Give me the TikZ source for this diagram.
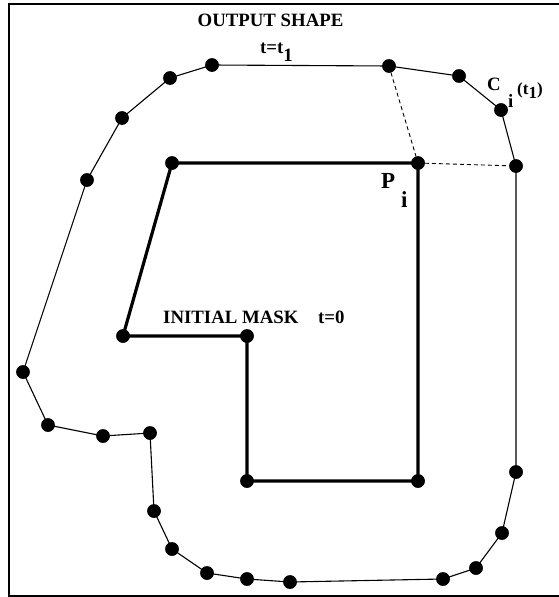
\documentclass[tikz,border=0pt]{standalone}
\usepackage{fontspec}
\setmainfont{Liberation Serif}
\begin{document}
\begin{tikzpicture}[x=1pt,y=-1pt,
  dot/.style={circle,fill=black,inner sep=0pt,minimum size=13.5pt},
  outer/.style={line width=1.1pt},
  inner/.style={line width=3.2pt},
  guide/.style={line width=0.9pt,dash pattern=on 4pt off 3pt},
  lbl/.style={inner sep=0pt,font=\bfseries\fontsize{18.8}{20}\selectfont},
  frame/.style={line width=2pt}]
\useasboundingbox (0,0) rectangle (559,597);
% frame
\coordinate (f1) at (562,4);
\coordinate (f2) at (9,4);
\coordinate (f3) at (9,596);
\coordinate (f4) at (562,596);
\draw[frame] (f1) -- (f2) -- (f3) -- (f4);
% outer shape points
\foreach \n/\x/\y in {o1/212/65, o2/170/78, o3/122/118, o4/87/180, o5/23/372,
  o6/48/425, o7/103/436, o8/150/433, o9/154/511, o10/172/549, o11/207/573,
  o12/247/579, o13/290/582, o14/443/579, o15/476/568, o16/502/533,
  o17/516/472, o18/516/166, o19/501/110, o20/459/76, o21/389/66}
  {\node[dot] (\n) at (\x,\y) {};}
% inner mask points
\foreach \n/\x/\y in {m1/172/163, m2/418/163, m3/418/481, m4/247/481,
  m5/247/336, m6/123/336}
  {\node[dot] (\n) at (\x,\y) {};}
\draw[outer] (o1.center) -- (o2.center) -- (o3.center) -- (o4.center) -- (o5.center)
  -- (o6.center) -- (o7.center) -- (o8.center) -- (o9.center) -- (o10.center)
  -- (o11.center) -- (o12.center) -- (o13.center) -- (o14.center) -- (o15.center)
  -- (o16.center) -- (o17.center) -- (o18.center) -- (o19.center) -- (o20.center)
  -- (o21.center) -- (o1.center);
\draw[inner,line join=miter] (m1.center) -- (m2.center) -- (m3.center) -- (m4.center)
  -- (m5.center) -- (m6.center) -- cycle;
\draw[guide] (o21) -- (m2);
\draw[guide] (m2) -- (o18);
% redraw dots on top
\foreach \n in {o1,o2,o3,o4,o5,o6,o7,o8,o9,o10,o11,o12,o13,o14,o15,o16,o17,o18,o19,o20,o21,m1,m2,m3,m4,m5,m6}
  {\fill (\n.center) circle (6.75pt);}
% labels
\node[lbl,anchor=base] (tout) at (270.5,26) {OUTPUT SHAPE};
\node[lbl,anchor=base west] (tt) at (260,53) {t=t\raisebox{-8pt}{1}};
\node[lbl,anchor=base west] (tc) at (487,90) {C};
\node[lbl,anchor=base west] (ti) at (508,107) {i};
\node[lbl,anchor=base west,font=\bfseries\fontsize{17}{18}\selectfont] (tct) at (517,94) {(t\raisebox{-4pt}{1})};
\node[lbl,anchor=base west,font=\bfseries\fontsize{23}{24}\selectfont] (tp) at (381,188) {P};
\node[lbl,anchor=base west,font=\bfseries\fontsize{23}{24}\selectfont] (tpi) at (401,207) {i};
\node[lbl,anchor=base west] (tmask) at (163,323) {INITIAL MASK};
\node[lbl,anchor=base west] (tzero) at (318,323) {t=0};
\end{tikzpicture}
\end{document}
